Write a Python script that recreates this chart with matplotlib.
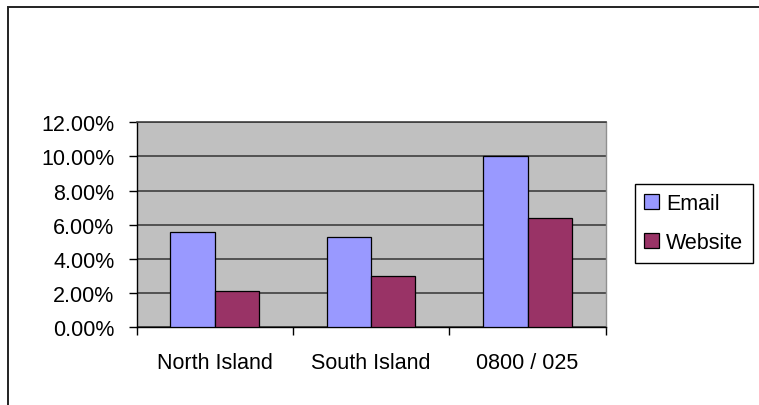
import numpy as np
import matplotlib
matplotlib.use('Agg')
import matplotlib.pyplot as plt
from matplotlib.patches import Rectangle
from matplotlib.ticker import FuncFormatter

# data
categories = ['North Island', 'South Island', '0800 / 025']
email = [5.6, 5.3, 10.0]
website = [2.1, 3.0, 6.4]
series_names = ['Email', 'Website']
yticks = [0, 2, 4, 6, 8, 10, 12]

plt.rcParams['font.family'] = ['Liberation Sans', 'DejaVu Sans']
plt.rcParams['font.size'] = 15.5

W, H = 759, 406
fig = plt.figure(figsize=(W / 100, H / 100), dpi=100)

# outer chart border (only left and top visible in the original)
fig.patches.append(Rectangle((8 / W, -0.1), 1.2, 1 - 8 / H + 0.1, transform=fig.transFigure,
                             fill=False, edgecolor='#222222', linewidth=1.4))

ax = fig.add_axes([136.5 / W, 1 - 328.3 / H, (605.7 - 136.5) / W, (328.3 - 123.3) / H])
ax.set_facecolor('#C0C0C0')

x = np.arange(len(categories))
w = 0.283
ax.bar(x - w / 2, email, w, color='#9999FF', edgecolor='black', linewidth=0.9, label=series_names[0], zorder=3)
ax.bar(x + w / 2, website, w, color='#993366', edgecolor='black', linewidth=0.9, label=series_names[1], zorder=3)

ax.set_xlim(-0.5, len(categories) - 0.5)
ax.set_ylim(0, 12)
ax.set_yticks(yticks)
ax.yaxis.set_major_formatter(FuncFormatter(lambda v, p: '%.2f%%' % v))
ax.yaxis.grid(True, color='#3f3f3f', linewidth=1.2, zorder=1)
ax.set_axisbelow(True)

# category ticks sit between groups, labels centred under groups
ax.set_xticks(np.arange(len(categories) + 1) - 0.5)
ax.set_xticklabels([])
ax.set_xticks(x, minor=True)
ax.set_xticklabels(categories, minor=True)
ax.tick_params(axis='x', which='major', direction='out', length=6, width=1)
ax.tick_params(axis='x', which='minor', length=0, pad=18)
ax.tick_params(axis='y', direction='out', length=6, width=1, pad=10)

for s in ['left', 'bottom']:
    ax.spines[s].set_color('black')
    ax.spines[s].set_linewidth(1)
ax.spines['top'].set_color('#3f3f3f')
ax.spines['top'].set_linewidth(1.2)
ax.spines['right'].set_color('#909090')
ax.spines['right'].set_linewidth(1)

leg = fig.legend(loc='upper left', bbox_to_anchor=(634.5 / W, 1 - 184.5 / H), borderaxespad=0,
                 fancybox=False, edgecolor='black', framealpha=1, handlelength=0.7,
                 handleheight=0.7, handletextpad=0.33, labelspacing=0.85, borderpad=0.45)
leg.get_frame().set_linewidth(1)

fig.savefig('out.png', dpi=100)
